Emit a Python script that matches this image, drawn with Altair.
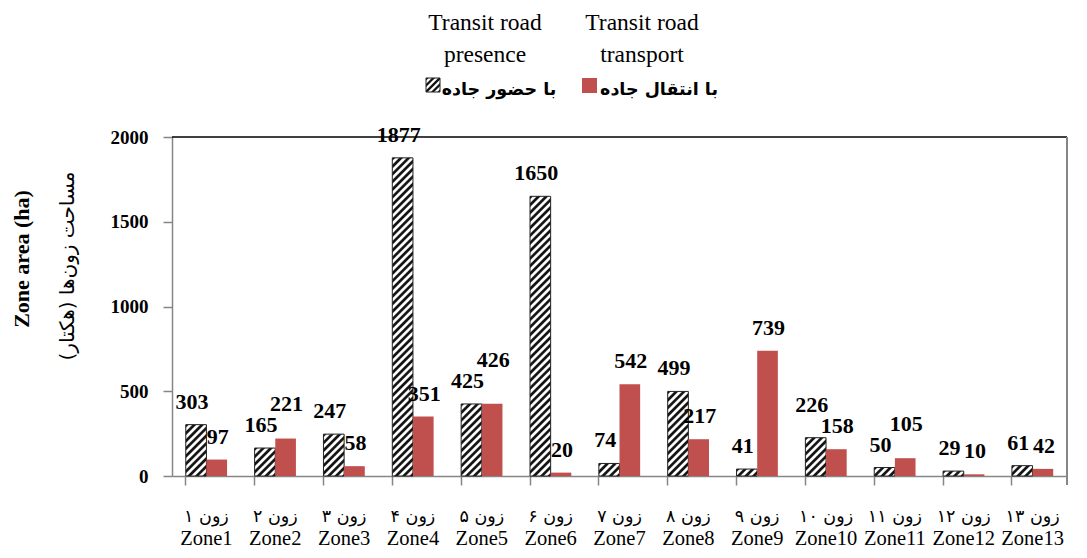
import math
import altair as alt
import pandas as pd

# ---------------- data ----------------
zones_en = ["Zone1", "Zone2", "Zone3", "Zone4", "Zone5", "Zone6", "Zone7",
            "Zone8", "Zone9", "Zone10", "Zone11", "Zone12", "Zone13"]
zones_fa = ["زون ۱", "زون ۲", "زون ۳", "زون ۴", "زون ۵", "زون ۶", "زون ۷",
            "زون ۸", "زون ۹", "زون ۱۰", "زون ۱۱", "زون ۱۲", "زون ۱۳"]
presence = [303, 165, 247, 1877, 425, 1650, 74, 499, 41, 226, 50, 29, 61]
transport = [97, 221, 58, 351, 426, 20, 542, 217, 739, 158, 105, 10, 42]
series_keys = ["presence", "transport"]
legend_en = [["Transit road", "presence"], ["Transit road", "transport"]]
legend_fa = ["با حضور جاده", "با انتقال جاده"]
y_ticks = [0, 500, 1000, 1500, 2000]
y_title_en = "Zone area (ha)"
y_title_fa = "\u200fمساحت زون‌ها (هکتار)\u200f"

# ---------------- layout ----------------
W, H = 895, 339
YMAX = 2000
PI, PO = 0.4, 0.2
step = W / (len(zones_en) - PI + 2 * PO)
bar_w = step * (1 - PI) / 2
RED = "#C0504D"
SERIF = "Liberation Serif"
FA_FONT = "DejaVu Sans"
LBL_SIZE = 22
DX_H, DX_R = -4, 1


def hatch(w, h, period=5.4):
    """diagonal stripe gradient at 45deg in pixel space for a w x h box"""
    h = max(h, 0.5)
    s = (w + h) / (w * w + h * h)
    n = (w + h) / math.sqrt(2) / period
    stops = []
    k = 0
    pattern = [(0.0, "#141414"), (0.3, "#141414"), (0.5, "#ffffff"), (0.8, "#ffffff")]
    while True:
        done = False
        for frac, col in pattern:
            off = (k + frac) / n
            if off > 1:
                done = True
                break
            stops.append({"offset": round(off, 5), "color": col})
        if done:
            break
        k += 1
    return {"gradient": "linear", "x1": 0, "y1": 0,
            "x2": round(w * s, 5), "y2": round(h * s, 5), "stops": stops}


# simple label collision avoidance: lift the taller label of a pair if the
# two value labels would collide
px_per_unit = H / YMAX
rows = []
for i, z in enumerate(zones_en):
    p, t = presence[i], transport[i]
    wp = len(str(p)) * LBL_SIZE * 0.5
    wt = len(str(t)) * LBL_SIZE * 0.5
    lift_p = lift_t = 0.0
    diff = abs(p - t) * px_per_unit
    if (wp + wt) / 2 > bar_w + DX_R - DX_H and diff < 21:
        if t >= p:
            lift_t = 21 - diff
        else:
            lift_p = 21 - diff
    rows.append({"zone": z, "series": "presence", "value": p,
                 "label_y": p + lift_p / px_per_unit})
    rows.append({"zone": z, "series": "transport", "value": t,
                 "label_y": t + lift_t / px_per_unit})
df = pd.DataFrame(rows)
zdf = pd.DataFrame({"zone": zones_en, "fa": zones_fa})
one = pd.DataFrame({"a": [0]})

x_enc = alt.X("zone:N", sort=zones_en, title=None,
              scale=alt.Scale(domain=zones_en, paddingInner=PI, paddingOuter=PO),
              axis=alt.Axis(labels=False, bandPosition=0, domainColor="#868686",
                            domainWidth=1.5, tickColor="#868686", tickWidth=1.5,
                            tickSize=9, grid=False))
xo_enc = alt.XOffset("series:N", scale=alt.Scale(domain=series_keys, paddingInner=0,
                                                  paddingOuter=0))
y_scale = alt.Scale(domain=[0, YMAX], nice=False)
y_enc = alt.Y("value:Q", title=None, scale=y_scale,
              axis=alt.Axis(values=y_ticks, format="d", grid=False,
                            domainColor="#868686", domainWidth=1.5,
                            tickColor="#868686", tickWidth=1.5, tickSize=9,
                            labelPadding=15, labelFont=SERIF,
                            labelFontWeight="bold", labelFontSize=19,
                            labelColor="black"))

base = alt.Chart(df).encode(x=x_enc, xOffset=xo_enc, y=y_enc)

layers = []
for i, z in enumerate(zones_en):
    hpx = presence[i] * px_per_unit
    layers.append(
        base.transform_filter(
            f"datum.zone === '{z}' && datum.series === 'presence'"
        ).mark_bar(fill=hatch(bar_w, hpx), stroke="#222222", strokeWidth=1)
    )

layers.append(
    base.transform_filter("datum.series === 'transport'").mark_bar(color=RED)
)

for key, dx in (("presence", DX_H), ("transport", DX_R)):
    layers.append(
        alt.Chart(df).transform_filter(f"datum.series === '{key}'")
        .mark_text(font=SERIF, fontWeight="bold", fontSize=LBL_SIZE,
                   baseline="alphabetic", dy=-16, dx=dx, color="black")
        .encode(x=alt.X("zone:N", sort=zones_en), xOffset=xo_enc,
                y=alt.Y("label_y:Q", scale=y_scale), text="value:Q")
    )

# x category labels (two lines)
layers.append(
    alt.Chart(zdf).mark_text(font=FA_FONT, fontSize=17.5, baseline="alphabetic",
                             color="black")
    .encode(x=alt.X("zone:N", sort=zones_en), y=alt.value(H + 46), text="fa:N")
)
layers.append(
    alt.Chart(zdf).mark_text(font=SERIF, fontSize=20.5, baseline="alphabetic",
                             color="black")
    .encode(x=alt.X("zone:N", sort=zones_en), y=alt.value(H + 69), text="zone:N")
)

# frame: top and right borders
layers.append(
    alt.Chart(one).mark_rule(color="black", strokeWidth=1.5)
    .encode(x=alt.value(0), x2=alt.value(W), y=alt.value(0))
)
layers.append(
    alt.Chart(one).mark_rule(color="#868686", strokeWidth=2)
    .encode(x=alt.value(W), y=alt.value(0), y2=alt.value(H + 9))
)

# y titles
layers.append(
    alt.Chart(one).mark_text(text=y_title_en, font=SERIF, fontWeight="bold",
                             fontSize=22, angle=270, align="center",
                             baseline="middle", color="black")
    .encode(x=alt.value(-150), y=alt.value(122))
)
layers.append(
    alt.Chart(one).mark_text(text=y_title_fa, font=FA_FONT, fontSize=20,
                             angle=270, align="center", baseline="middle",
                             color="black")
    .encode(x=alt.value(-104), y=alt.value(129))
)

# legend
leg_cx = [313, 470]
for j in range(2):
    layers.append(
        alt.Chart(one).mark_text(text=legend_en[j], font=SERIF, fontSize=23.5,
                                 lineHeight=32, align="center",
                                 baseline="alphabetic", color="black")
        .encode(x=alt.value(leg_cx[j]), y=alt.value(-107))
    )
layers.append(
    alt.Chart(one).mark_rect(fill=hatch(14, 14, 4.6), stroke="#222222", strokeWidth=1)
    .encode(x=alt.value(254), x2=alt.value(268), y=alt.value(-59), y2=alt.value(-45))
)
layers.append(
    alt.Chart(one).mark_text(text=legend_fa[0], font=FA_FONT, fontSize=17.5,
                             fontWeight="bold", align="center",
                             baseline="alphabetic", color="black")
    .encode(x=alt.value(327), y=alt.value(-42))
)
layers.append(
    alt.Chart(one).mark_rect(fill=RED)
    .encode(x=alt.value(410), x2=alt.value(425), y=alt.value(-59), y2=alt.value(-44))
)
layers.append(
    alt.Chart(one).mark_text(text=legend_fa[1], font=FA_FONT, fontSize=17.5,
                             fontWeight="bold", align="center",
                             baseline="alphabetic", color="black")
    .encode(x=alt.value(487), y=alt.value(-42))
)

chart = alt.layer(*layers).properties(
    width=W, height=H, autosize="none",
    padding={"left": 164, "top": 129, "right": 12, "bottom": 74},
    background="white",
).configure_view(stroke=None)

chart.save("out.html", embed_options={"renderer": "svg", "actions": False})
